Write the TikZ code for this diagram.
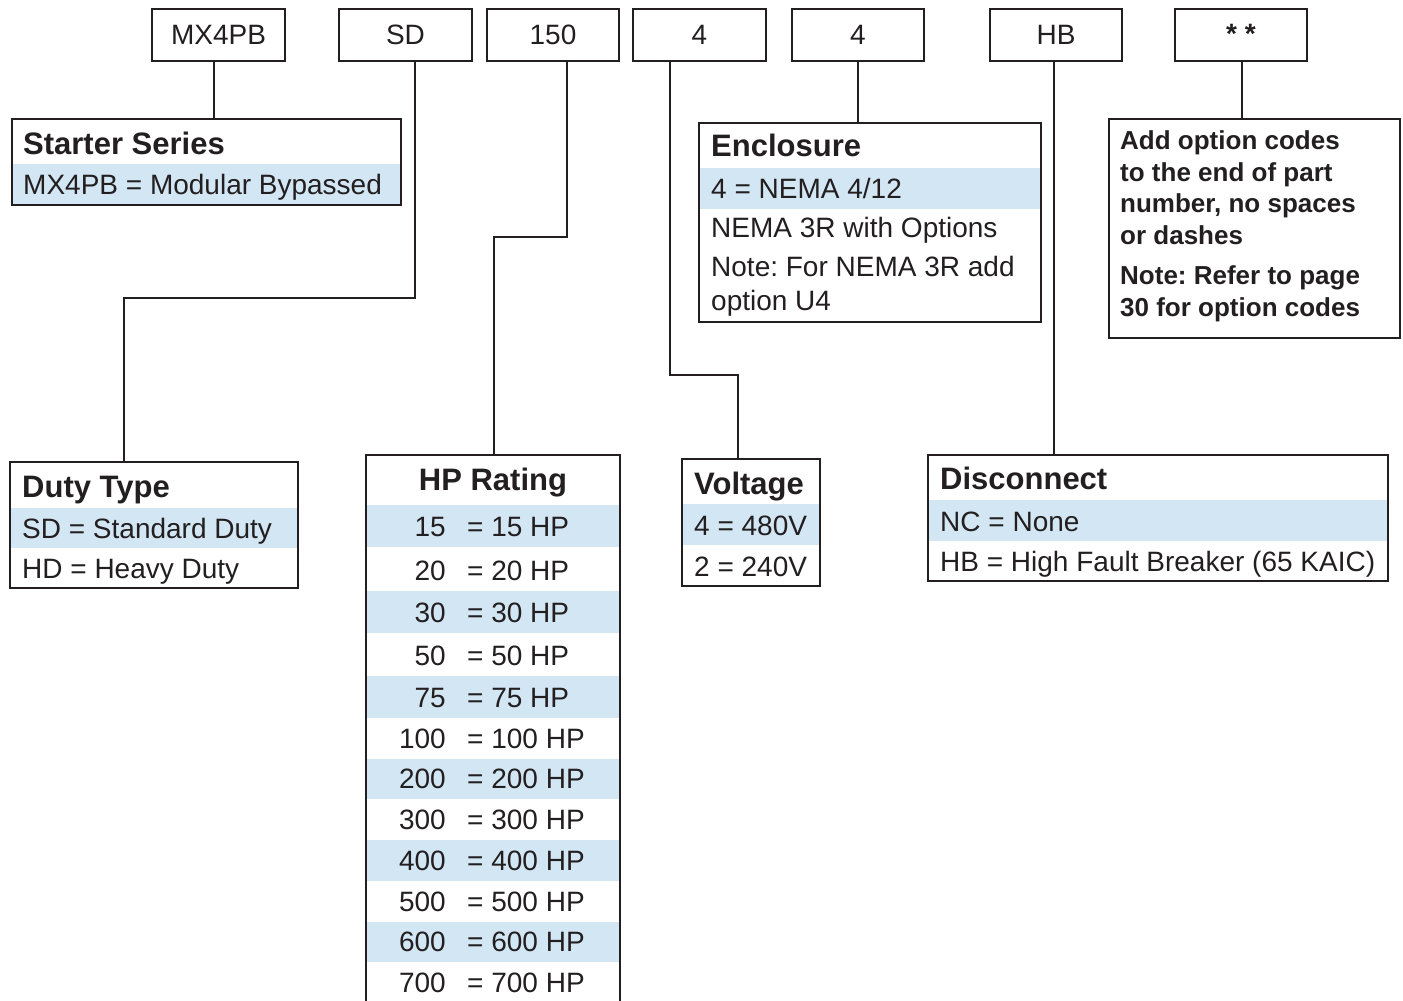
\documentclass[tikz,border=0pt]{standalone}
\usepackage{fontspec}
\setmainfont{Liberation Sans}
\usetikzlibrary{calc}
\definecolor{band}{RGB}{210,230,244}
\definecolor{ink}{RGB}{35,31,32}
\frenchspacing
\begin{document}
\begin{tikzpicture}[x=1pt,y=-1pt,
  box/.style={draw=ink,line width=2.8pt,anchor=north west,inner sep=0pt,outer sep=0pt,rectangle},
  topbox/.style={box,font=\fontsize{28}{32}\selectfont,text=ink},
  title/.style={anchor=base west,inner sep=0pt,font=\bfseries\fontsize{31}{34}\selectfont,text=ink},
  body/.style={anchor=base west,inner sep=0pt,font=\fontsize{28}{32}\selectfont,text=ink},
  opt/.style={anchor=base west,inner sep=0pt,font=\bfseries\fontsize{26}{30}\selectfont,text=ink},
  conn/.style={draw=ink,line width=2.3pt},
  bandfill/.style={fill=band}]
\useasboundingbox (0,0) rectangle (1403,1001);
\fill[white] (0,0) rectangle (1403,1001);

% ---------- top code boxes ----------
\node[topbox,minimum width=133pt,minimum height=52pt] (mx)   at (152,9)  {MX4PB};
\node[topbox,minimum width=133pt,minimum height=52pt] (sd)   at (339,9)  {SD};
\node[topbox,minimum width=132pt,minimum height=52pt] (hp150) at (487,9) {150};
\node[topbox,minimum width=133pt,minimum height=52pt] (va)   at (633,9)  {4};
\node[topbox,minimum width=132pt,minimum height=52pt] (en)   at (792,9)  {4};
\node[topbox,minimum width=132pt,minimum height=52pt] (hb)   at (990,9)  {HB};
\node[topbox,minimum width=132pt,minimum height=52pt,font=\bfseries\fontsize{28}{32}\selectfont] (st) at (1175,9) {\raisebox{3pt}{* *}};

% ---------- Starter Series ----------
\fill[bandfill] (12,164) rectangle (401,205);
\node[box,minimum width=389pt,minimum height=86pt] (ss) at (12,119) {};
\node[title] (ssT) at (23,154) {Starter Series};
\node[body]  (ss1) at (23,194) {MX4PB = Modular Bypassed};

% ---------- Enclosure ----------
\fill[bandfill] (699,168) rectangle (1041,209);
\node[box,minimum width=342pt,minimum height=199pt] (enc) at (699,123) {};
\node[title] (encT) at (711,156) {Enclosure};
\node[body]  (enc1) at (711,198) {4 = NEMA 4/12};
\node[body]  (enc2) at (711,237) {NEMA 3R with Options};
\node[body]  (enc3) at (711,276) {Note: For NEMA 3R add};
\node[body]  (enc4) at (711,310) {option U4};

% ---------- Option codes ----------
\node[box,minimum width=291pt,minimum height=219pt] (ob) at (1109,119) {};
\node[opt] (o1) at (1120,149) {Add option codes};
\node[opt] (o2) at (1120,181) {to the end of part};
\node[opt] (o3) at (1120,212) {number, no spaces};
\node[opt] (o4) at (1120,244) {or dashes};
\node[opt] (o5) at (1120,284) {Note: Refer to page};
\node[opt] (o6) at (1120,316) {30 for option codes};

% ---------- Duty Type ----------
\fill[bandfill] (10,508) rectangle (298,548);
\node[box,minimum width=288pt,minimum height=126pt] (duty) at (10,462) {};
\node[title] (dutyT) at (22,497) {Duty Type};
\node[body]  (duty1) at (22,538) {SD = Standard Duty};
\node[body]  (duty2) at (22,578) {HD = Heavy Duty};

% ---------- HP Rating ----------
\foreach \t/\b/\v/\f in {505/547/15/1,547/591/20/0,591/633/30/1,633/676/50/0,676/718/75/1,718/759/100/0,
                         759/799/200/1,799/840/300/0,840/881/400/1,881/922/500/0,922/962/600/1,962/1003/700/0}{
  \ifnum\f=1 \fill[bandfill] (366,\t) rectangle (620,\b); \fi
  \node[body,anchor=base east] (hpn\v) at (446,\b-10.5) {\v};
  \node[body] (hpv\v) at (467,\b-10.5) {= \v\ HP};
}
\node[box,minimum width=254pt,minimum height=560pt] (hp) at (366,455) {};
\node[title,anchor=base] (hpT) at (493,490) {HP Rating};

% ---------- Voltage ----------
\fill[bandfill] (682,504) rectangle (820,545);
\node[box,minimum width=138pt,minimum height=127pt] (volt) at (682,459) {};
\node[title] (voltT) at (694,494) {Voltage};
\node[body]  (volt1) at (694,535) {4 = 480V};
\node[body]  (volt2) at (694,576) {2 = 240V};

% ---------- Disconnect ----------
\fill[bandfill] (928,500) rectangle (1388,541);
\node[box,minimum width=460pt,minimum height=126pt] (disc) at (928,455) {};
\node[title] (discT) at (940,489) {Disconnect};
\node[body]  (disc1) at (940,531) {NC = None};
\node[body]  (disc2) at (940,571) {HB = High Fault Breaker (65 KAIC)};

% ---------- connectors ----------
\coordinate (x1) at (214,0);
\draw[conn] (mx.south -| x1) -- (ss.north -| x1);

\coordinate (k1a) at (415,298);
\coordinate (k1b) at (124,298);
\draw[conn] (sd.south -| k1a) -- (k1a) -- (k1b) -- (duty.north -| k1b);

\coordinate (k2a) at (567,237);
\coordinate (k2b) at (494,237);
\draw[conn] (hp150.south -| k2a) -- (k2a) -- (k2b) -- (hp.north -| k2b);

\coordinate (k3a) at (670,375);
\coordinate (k3b) at (738,375);
\draw[conn] (va.south -| k3a) -- (k3a) -- (k3b) -- (volt.north -| k3b);

\coordinate (x4) at (858,0);
\draw[conn] (en.south -| x4) -- (enc.north -| x4);

\coordinate (x5) at (1054,0);
\draw[conn] (hb.south -| x5) -- (disc.north -| x5);

\coordinate (x6) at (1242,0);
\draw[conn] (st.south -| x6) -- (ob.north -| x6);
\end{tikzpicture}
\end{document}
